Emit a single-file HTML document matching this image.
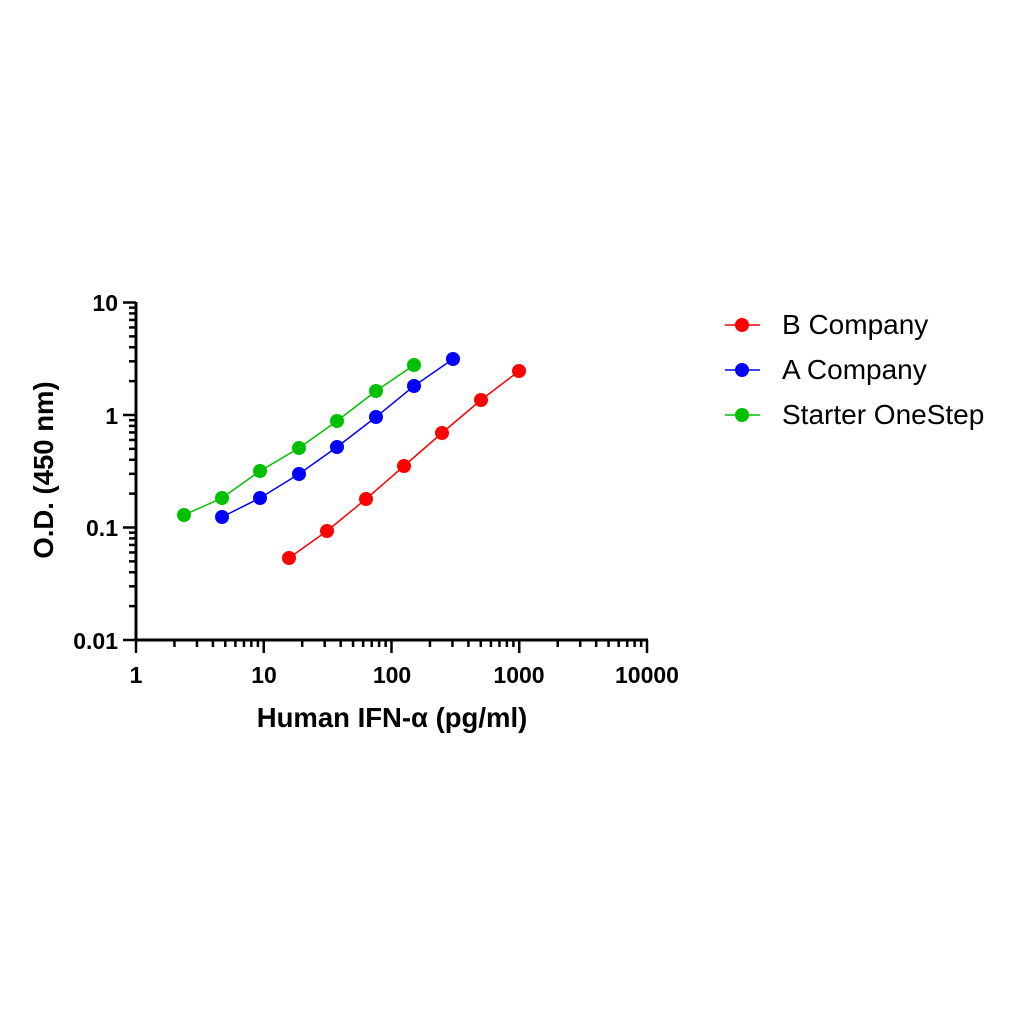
<!DOCTYPE html><html><head><style>body{margin:0;background:#fff}text{font-family:"Liberation Sans",Arial,sans-serif}</style></head><body>
<svg width="1011" height="1011" xmlns="http://www.w3.org/2000/svg">
<g stroke="#000" stroke-width="3" fill="none">
<line x1="136" y1="302" x2="136" y2="641"/><line x1="135" y1="640" x2="648" y2="640"/>
</g>
<g id="t" stroke="#000" stroke-width="2.5"></g>
<g font-size="23" font-weight="bold" text-anchor="end">
<text x="118" y="311">10</text><text x="118" y="424">1</text><text x="118" y="536">0.1</text><text x="118" y="649">0.01</text></g>
<g font-size="23" font-weight="bold" text-anchor="middle">
<text x="136" y="683">1</text><text x="264" y="683">10</text><text x="392" y="683">100</text><text x="519" y="683">1000</text><text x="647" y="683">10000</text></g>
<text x="392" y="727" font-size="27.5" font-weight="bold" text-anchor="middle">Human IFN-α (pg/ml)</text>
<text transform="translate(53,470) rotate(-90)" font-size="27.5" font-weight="bold" text-anchor="middle">O.D. (450 nm)</text>
<g fill="none" stroke-width="1.5">
<polyline stroke="#00c000" points="184,515 222,498 260,471 299,448 337,421 376,391 414,365"/>
<polyline stroke="#0000ff" points="222,517 260,498 299,474 337,447 376,417 414,386 453,359"/>
<polyline stroke="#ff0000" points="289,558 327,531 366,499 404,466 442,433 481,400 519,371"/>
</g>
<g fill="#00c000"><circle cx="184" cy="515" r="7"/><circle cx="222" cy="498" r="7"/><circle cx="260" cy="471" r="7"/><circle cx="299" cy="448" r="7"/><circle cx="337" cy="421" r="7"/><circle cx="376" cy="391" r="7"/><circle cx="414" cy="365" r="7"/></g>
<g fill="#0000ff"><circle cx="222" cy="517" r="7"/><circle cx="260" cy="498" r="7"/><circle cx="299" cy="474" r="7"/><circle cx="337" cy="447" r="7"/><circle cx="376" cy="417" r="7"/><circle cx="414" cy="386" r="7"/><circle cx="453" cy="359" r="7"/></g>
<g fill="#ff0000"><circle cx="289" cy="558" r="7"/><circle cx="327" cy="531" r="7"/><circle cx="366" cy="499" r="7"/><circle cx="404" cy="466" r="7"/><circle cx="442" cy="433" r="7"/><circle cx="481" cy="400" r="7"/><circle cx="519" cy="371" r="7"/></g>
<g stroke-width="1.5"><line x1="725" y1="325" x2="760" y2="325" stroke="#ff0000"/><line x1="725" y1="370" x2="760" y2="370" stroke="#0000ff"/><line x1="725" y1="415" x2="760" y2="415" stroke="#00c000"/></g>
<circle cx="742" cy="325" r="7" fill="#ff0000"/><circle cx="742" cy="370" r="7" fill="#0000ff"/><circle cx="742" cy="415" r="7" fill="#00c000"/>
<g font-size="28"><text x="782" y="334">B Company</text><text x="782" y="379">A Company</text><text x="782" y="424">Starter OneStep</text></g>
</svg>
<script>
var g=document.getElementById('t'),s='',L=Math.log10;
for(var d=0;d<3;d++)for(var k=1;k<=10;k++){if(d<2&&k==10)continue;var y=640-112.5*(d+L(k));var x1=(k==1||k==10)?123:129;s+='<line x1="'+x1+'" y1="'+y+'" x2="136" y2="'+y+'"/>';}
for(var d=0;d<4;d++)for(var k=1;k<=10;k++){if(d<3&&k==10)continue;var x=136+127.75*(d+L(k));var y2=(k==1||k==10)?653:647;s+='<line x1="'+x+'" y1="640" x2="'+x+'" y2="'+y2+'"/>';}
g.innerHTML=s;
</script>
</body></html>
